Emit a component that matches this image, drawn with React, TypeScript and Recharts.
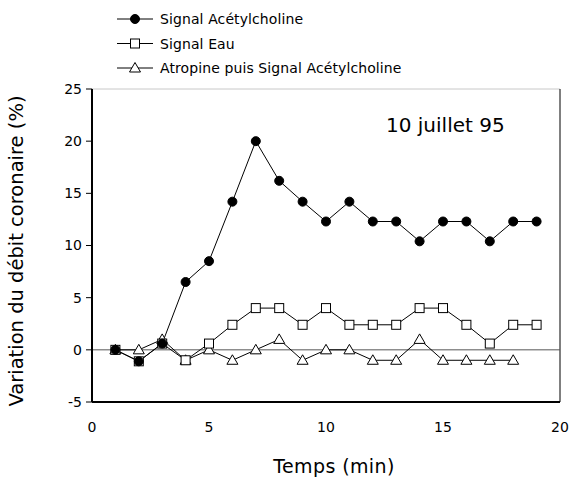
import React from "react"
import { LineChart, Line, XAxis, YAxis, ReferenceLine } from "recharts"

const minutes = [1, 2, 3, 4, 5, 6, 7, 8, 9, 10, 11, 12, 13, 14, 15, 16, 17, 18, 19]
const acetylcholine = [0, -1.1, 0.6, 6.5, 8.5, 14.2, 20, 16.2, 14.2, 12.3, 14.2, 12.3, 12.3, 10.4, 12.3, 12.3, 10.4, 12.3, 12.3]
const eau = [0, -1.1, 0.6, -1, 0.6, 2.4, 4, 4, 2.4, 4, 2.4, 2.4, 2.4, 4, 4, 2.4, 0.6, 2.4, 2.4]
const atropine = [0, 0, 1, -1, 0, -1, 0, 1, -1, 0, 0, -1, -1, 1, -1, -1, -1, -1]
const xTicks = [0, 5, 10, 15, 20]
const yTicks = [-5, 0, 5, 10, 15, 20, 25]

const seriesNames = ["Signal Acétylcholine", "Signal Eau", "Atropine puis Signal Acétylcholine"]

const rows = minutes.map((t, i) => ({
  t,
  ach: acetylcholine[i],
  eau: eau[i],
  atr: i < atropine.length ? atropine[i] : null,
}))

const FONT = "'DejaVu Sans', Verdana, sans-serif"

function Marker({ kind, cx, cy }: { kind: string; cx: number; cy: number }) {
  if (kind === "circle") return <circle cx={cx} cy={cy} r={4.5} fill="#000" stroke="#000" />
  if (kind === "square")
    return <rect x={cx - 4.5} y={cy - 4.5} width={9} height={9} fill="#fff" stroke="#000" strokeWidth={1} />
  return (
    <polygon
      points={`${cx},${cy - 5.5} ${cx + 5.5},${cy + 4} ${cx - 5.5},${cy + 4}`}
      fill="#fff"
      stroke="#000"
      strokeWidth={1}
    />
  )
}

const makeDot = (kind: string) => (props: any) => {
  const { cx, cy, index } = props
  if (cx == null || cy == null) return <g key={index} />
  return <Marker key={index} kind={kind} cx={cx} cy={cy} />
}

function LegendBox() {
  const kinds = ["circle", "square", "triangle"]
  return (
    <svg width={570} height={85} style={{ position: "absolute", left: 0, top: 0 }}>
      {kinds.map((k, i) => {
        const y = 19 + i * 24.5
        return (
          <g key={k}>
            <line x1={117} x2={153} y1={y} y2={y} stroke="#000" strokeWidth={1} />
            <Marker kind={k} cx={135} cy={y} />
            <text x={160} y={y + 5} fontFamily={FONT} fontSize={14} fill="#000" letterSpacing={0.1}>
              {seriesNames[i]}
            </text>
          </g>
        )
      })}
    </svg>
  )
}

export default function App() {
  return (
    <div style={{ position: "absolute", left: 0, top: 0, width: 570, height: 479, background: "#fff" }}>
      <LineChart
        width={570}
        height={479}
        data={rows}
        margin={{ top: 89, right: 10, left: 32, bottom: 47 }}
      >
        <XAxis
          dataKey="t"
          type="number"
          domain={[0, 20]}
          ticks={xTicks}
          tickLine={false}
          axisLine={{ stroke: "#000", strokeWidth: 2 }}
          tick={{ fill: "#000", fontSize: 14, fontFamily: FONT }}
          tickMargin={14}
          height={30}
        />
        <YAxis
          type="number"
          domain={[-5, 25]}
          ticks={yTicks}
          width={60}
          tickSize={6}
          tickLine={{ stroke: "#000" }}
          axisLine={{ stroke: "#000", strokeWidth: 2 }}
          tick={{ fill: "#000", fontSize: 14, fontFamily: FONT }}
          tickMargin={4}
        />
        <ReferenceLine y={25} stroke="#c8c8c8" strokeWidth={1} />
        <ReferenceLine x={20} stroke="#000" strokeWidth={1} />
        <ReferenceLine y={0} stroke="#555" strokeWidth={1} />
        <Line
          dataKey="atr"
          stroke="#000"
          strokeWidth={1}
          dot={makeDot("triangle")}
          isAnimationActive={false}
          connectNulls={false}
        />
        <Line dataKey="eau" stroke="#000" strokeWidth={1} dot={makeDot("square")} isAnimationActive={false} />
        <Line dataKey="ach" stroke="#000" strokeWidth={1} dot={makeDot("circle")} isAnimationActive={false} />
        <text x={386} y={132} fontFamily={FONT} fontSize={20} fill="#000">
          10 juillet 95
        </text>
        <text
          x={334}
          y={473}
          textAnchor="middle"
          fontFamily={FONT}
          fontSize={19}
          letterSpacing={0.4}
          fill="#000"
        >
          Temps (min)
        </text>
        <text
          transform="translate(23,251) rotate(-90)"
          textAnchor="middle"
          fontFamily={FONT}
          fontSize={19.5}
          fill="#000"
        >
          Variation du débit coronaire (%)
        </text>
      </LineChart>
      <LegendBox />
    </div>
  )
}
